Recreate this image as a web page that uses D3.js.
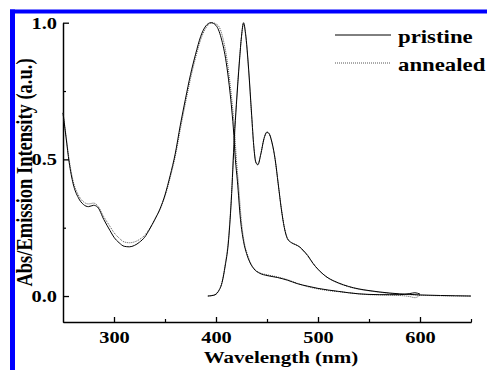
<!DOCTYPE html>
<html>
<head>
<meta charset="utf-8">
<script src="https://cdn.jsdelivr.net/npm/d3@7"></script>
<style>
  body { margin: 0; background: #fff; }
  text { font-family: "Liberation Serif", "Times New Roman", serif; font-weight: bold; fill: #000; }
</style>
</head>
<body>
<div id="chart"></div>
<script>
// absorption spectra (nm, normalised)
const absPristine = [
  [250,0.67],[253,0.58],[256,0.49],[260,0.41],[265,0.36],[270,0.335],[275,0.327],[280,0.332],
  [284,0.325],[290,0.28],[296,0.24],[300,0.215],[305,0.195],[310,0.182],[315,0.18],[320,0.185],
  [325,0.197],[330,0.215],[335,0.245],[340,0.28],[345,0.318],[350,0.37],[355,0.44],[360,0.52],
  [365,0.625],[370,0.72],[375,0.81],[380,0.885],[385,0.95],[390,0.988],[395,1.0],
  [400,0.99],[405,0.945],[410,0.855],[413,0.77],[415,0.7],[417,0.615],[419,0.5],[421,0.42],
  [424,0.28],[427,0.2],[430,0.155],[433,0.125],[437,0.1],[443,0.083],[450,0.075],[460,0.068],
  [470,0.058],[480,0.045],[490,0.036],[500,0.028],[510,0.022],[520,0.017],[530,0.012],
  [540,0.008],[550,0.006],[560,0.005],[570,0.005],[580,0.005],[590,0.009],[595,0.012],[600,0.007]
];
const absAnnealed = [
  [250,0.67],[253,0.585],[256,0.5],[260,0.42],[265,0.37],[270,0.345],[275,0.337],[280,0.34],
  [284,0.33],[290,0.29],[296,0.255],[300,0.232],[305,0.212],[310,0.198],[315,0.195],[320,0.198],
  [325,0.207],[330,0.222],[335,0.248],[340,0.28],[345,0.316],[350,0.365],[355,0.432],[360,0.51],
  [365,0.61],[370,0.705],[375,0.795],[380,0.872],[385,0.938],[390,0.98],[396,1.0],
  [402,0.99],[407,0.94],[411,0.86],[414,0.77],[416,0.7],[418,0.615],[420,0.5],[422,0.41],
  [425,0.27],[428,0.19],[431,0.15],[434,0.12],[438,0.098],[443,0.085],[450,0.078],[460,0.07],
  [470,0.06],[480,0.046],[490,0.034],[500,0.026],[510,0.02],[520,0.016],[530,0.012],
  [540,0.008],[550,0.005],[560,0.004],[570,0.003],[580,0.002],[590,-0.002],[595,-0.006],[600,0.003]
];
// emission spectra (nm, normalised)
const emPristine = [
  [392,0.0],[398,0.003],[402,0.015],[406,0.05],[409,0.11],[412,0.19],[415,0.35],[418,0.58],
  [420,0.7],[423,0.86],[425,0.95],[427,1.0],[429,0.96],[432,0.83],[435,0.66],[437,0.55],
  [439,0.49],[441,0.48],[444,0.52],[447,0.575],[450,0.6],[452,0.595],[455,0.56],[458,0.5],
  [461,0.41],[464,0.32],[467,0.25],[470,0.21],[474,0.195],[478,0.188],[482,0.18],[486,0.165],
  [490,0.148],[495,0.12],[500,0.098],[505,0.08],[510,0.066],[515,0.056],[520,0.048],[530,0.035],
  [540,0.026],[550,0.02],[560,0.015],[570,0.011],[580,0.008],[590,0.006],[600,0.004],[620,0.002],
  [635,0.001],[650,0.0]
];
const emAnnealed = [
  [392,0.0],[398,0.004],[402,0.017],[406,0.053],[409,0.115],[412,0.2],[415,0.36],[418,0.59],
  [420,0.71],[423,0.865],[425,0.95],[427,0.995],[429,0.955],[432,0.825],[435,0.655],[437,0.55],
  [439,0.49],[441,0.482],[444,0.522],[447,0.575],[450,0.598],[452,0.593],[455,0.558],[458,0.498],
  [461,0.41],[464,0.322],[467,0.252],[470,0.212],[474,0.196],[478,0.188],[482,0.178],[486,0.163],
  [490,0.146],[495,0.12],[500,0.097],[505,0.08],[510,0.066],[515,0.056],[520,0.047],[530,0.034],
  [540,0.025],[550,0.019],[560,0.014],[570,0.01],[580,0.007],[590,0.005],[600,0.003],[620,0.001],
  [635,0.0],[650,0.0]
];
const seriesNames = ["pristine", "annealed"];
const xMajor = [300, 400, 500, 600];
const xMinor = [350, 450, 550, 650];
const yMajor = [0, 0.5, 1.0];
const yMinor = [0.25, 0.75];

const width = 487, height = 370;
const plot = { left: 63, right: 471, top: 22.7, bottom: 322 };
const sx = 1.2; // glyphs are a bit wide in the picture

const svg = d3.select("#chart").append("svg")
  .attr("width", width).attr("height", height);

// blue frame corner
svg.append("rect").attr("x", 10).attr("y", 9.5).attr("width", 477).attr("height", 4).attr("fill", "#0000ff");
svg.append("rect").attr("x", 10).attr("y", 9.5).attr("width", 5).attr("height", 361).attr("fill", "#0000ff");

const x = d3.scaleLinear().domain([250, 650]).range([plot.left, plot.right]);
const y = d3.scaleLinear().domain([-0.095, 1.0]).range([plot.bottom, plot.top]);

// minor ticks
svg.append("g").attr("transform", `translate(0,${plot.bottom})`)
  .call(d3.axisBottom(x).tickValues(xMinor).tickSizeInner(-3).tickSizeOuter(0).tickFormat(""))
  .call(g => g.selectAll("line,path").attr("stroke", "#000").attr("stroke-width", 1.2));
svg.append("g").attr("transform", `translate(${plot.left},0)`)
  .call(d3.axisLeft(y).tickValues(yMinor).tickSizeInner(-3).tickSizeOuter(0).tickFormat(""))
  .call(g => g.selectAll("line,path").attr("stroke", "#000").attr("stroke-width", 1.2));

// major axes
const xAxis = svg.append("g").attr("transform", `translate(0,${plot.bottom})`)
  .call(d3.axisBottom(x).tickValues(xMajor).tickSizeInner(-5).tickSizeOuter(0).tickPadding(8.5));
const yAxis = svg.append("g").attr("transform", `translate(${plot.left},0)`)
  .call(d3.axisLeft(y).tickValues(yMajor).tickSizeInner(-6).tickSizeOuter(0).tickPadding(5)
    .tickFormat(d3.format(".1f")));

[xAxis, yAxis].forEach(g => {
  g.attr("font-family", null).attr("font-size", null);
  g.selectAll("line,path").attr("stroke", "#000").attr("stroke-width", 1.3);
  g.selectAll("text").attr("font-size", 17).attr("fill", "#000")
    .attr("transform", `scale(${sx},1)`);
});

// curves
const line = d3.line().x(d => x(d[0])).y(d => y(d[1])).curve(d3.curveMonotoneX);
const solid = { stroke: "#000", width: 1, dash: null };
const dotted = { stroke: "#555", width: 1, dash: "1,1" };
[[absAnnealed, dotted], [emAnnealed, dotted], [absPristine, solid], [emPristine, solid]].forEach(([data, st]) => {
  svg.append("path").datum(data)
    .attr("d", line)
    .attr("fill", "none")
    .attr("stroke", st.stroke)
    .attr("stroke-width", st.width)
    .attr("stroke-dasharray", st.dash);
});

// axis titles
svg.append("text")
  .attr("transform", `translate(281,363) scale(${sx},1)`)
  .attr("text-anchor", "middle").attr("font-size", 17.5)
  .text("Wavelength (nm)");
svg.append("text")
  .attr("transform", `translate(32,172.5) rotate(-90) scale(1,${sx})`)
  .attr("text-anchor", "middle").attr("font-size", 18.5)
  .text("Abs/Emission Intensity (a.u.)");

// legend
const legend = svg.append("g");
seriesNames.forEach((name, i) => {
  const ly = 35 + i * 28;
  const st = i === 0 ? solid : dotted;
  legend.append("line")
    .attr("x1", 335).attr("x2", 391).attr("y1", ly).attr("y2", ly)
    .attr("stroke", st.stroke).attr("stroke-width", 1).attr("stroke-dasharray", st.dash);
  legend.append("text")
    .attr("transform", `translate(398,${ly + 8}) scale(${sx},1)`)
    .attr("font-size", 19)
    .text(name);
});
</script>
</body>
</html>
